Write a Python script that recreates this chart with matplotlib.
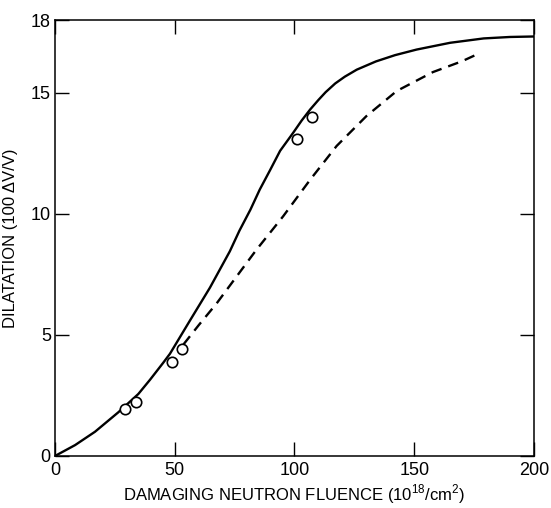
"""
Dilatation vs damaging neutron fluence: solid and dashed curves with measured points.
Output: out.png
"""

import matplotlib
matplotlib.use("Agg")
import matplotlib.pyplot as plt

# solid curve
solid_x = [0, 8.4, 16.7, 26.4, 34.8, 39.7, 45.2, 48, 56.4, 64.7, 73, 77, 81.6, 85.5,
           89.8, 94, 99.5, 103, 106.5, 110, 113, 117, 121, 126, 134, 142, 151,
           165, 179, 190, 200]
solid_y = [0, 0.45, 1.0, 1.8, 2.56, 3.15, 3.85, 4.22, 5.6, 6.95, 8.45, 9.3, 10.17, 11.0,
           11.8, 12.6, 13.35, 13.85, 14.3, 14.7, 15.02, 15.38, 15.66, 15.95, 16.29, 16.55,
           16.78, 17.06, 17.24, 17.3, 17.32]

# dashed curve
dash_x = [53.6, 60, 67.5, 75, 84, 95.3, 106.5, 117.6, 130, 142.7, 157.8, 170, 177.5]
dash_y = [4.6, 5.4, 6.3, 7.3, 8.5, 9.9, 11.4, 12.8, 14.03, 15.07, 15.85, 16.3, 16.64]

# measured points (open circles)
pts_x = [29.2, 33.7, 48.9, 53.0, 101.2, 107.3]
pts_y = [1.94, 2.21, 3.89, 4.4, 13.08, 14.0]

xticks = [0, 50, 100, 150, 200]
yticks = [0, 5, 10, 15, 18]

plt.rcParams["font.family"] = ["Liberation Sans", "DejaVu Sans"]
plt.rcParams["mathtext.fontset"] = "custom"
plt.rcParams["mathtext.rm"] = "Liberation Sans"

fig = plt.figure(figsize=(5.51, 5.08), dpi=100)
ax = fig.add_axes([0.0998, 0.1024, 0.8693, 0.8582])

ax.plot(solid_x, solid_y, color="black", lw=1.7, solid_joinstyle="round", zorder=2)
ax.plot(dash_x, dash_y, color="black", lw=1.7, dashes=(4.5, 3), zorder=2)
ax.plot(pts_x, pts_y, "o", ms=7.5, mfc="white", mec="black", mew=1.2,
        linestyle="none", zorder=3)

ax.set_xlim(0, 200)
ax.set_ylim(0, 18)
ax.set_xticks(xticks)
ax.set_yticks(yticks)
ax.set_xticklabels([str(t) for t in xticks])
ax.set_yticklabels([str(t) for t in yticks])
ax.tick_params(direction="in", length=10, width=1, top=True, right=True,
               labelsize=13, pad=4)
ax.tick_params(axis="y", pad=3)
for s in ax.spines.values():
    s.set_linewidth(1.1)

ax.set_xlabel("DAMAGING NEUTRON FLUENCE (10$^{\\mathrm{18}}$/cm$^{\\mathrm{2}}$)",
              fontsize=12, labelpad=3)
ax.set_ylabel("DILATATION (100 \u0394V/V)", fontsize=12, labelpad=9)

fig.savefig("out.png", dpi=100)
plt.close(fig)
